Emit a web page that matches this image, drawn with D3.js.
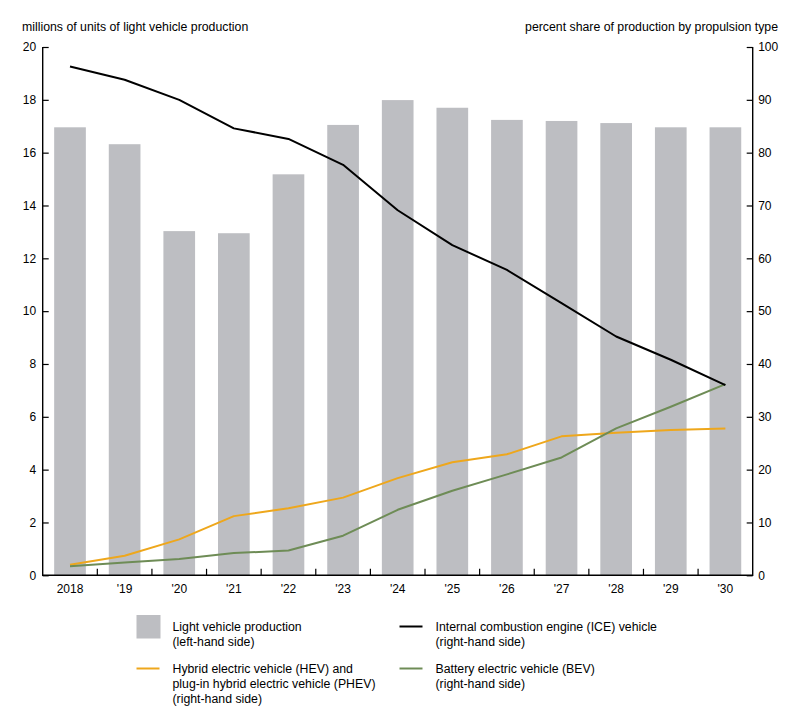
<!DOCTYPE html>
<html>
<head>
<meta charset="utf-8">
<script src="https://cdn.jsdelivr.net/npm/d3@7"></script>
<style>
  html, body { margin: 0; padding: 0; background: #fff; }
  svg { display: block; font-family: "Liberation Sans", Arial, Helvetica, sans-serif; }
</style>
</head>
<body>
<svg id="chart" width="800" height="722"></svg>
<script>
// ---- data ----
const years = ["2018", "'19", "'20", "'21", "'22", "'23", "'24", "'25", "'26", "'27", "'28", "'29", "'30"];
const production = [16.96, 16.32, 13.03, 12.95, 15.18, 17.05, 17.99, 17.70, 17.24, 17.20, 17.12, 16.96, 16.96];
const iceShare = [96.3, 93.8, 90.0, 84.6, 82.6, 77.7, 69.1, 62.5, 57.8, 51.5, 45.2, 40.8, 36.0];
const hevShare = [2.0, 3.7, 6.8, 11.2, 12.7, 14.7, 18.4, 21.4, 22.9, 26.3, 27.0, 27.5, 27.8];
const bevShare = [1.7, 2.4, 3.1, 4.2, 4.7, 7.5, 12.4, 16.0, 19.1, 22.3, 27.8, 31.9, 36.2];
const leftTicks = [0, 2, 4, 6, 8, 10, 12, 14, 16, 18, 20];
const rightTicks = [0, 10, 20, 30, 40, 50, 60, 70, 80, 90, 100];
const leftTitle = "millions of units of light vehicle production";
const rightTitle = "percent share of production by propulsion type";
const legendItems = [
  { type: "rect", key: "bar", lines: ["Light vehicle production", "(left-hand side)"] },
  { type: "line", key: "ice", lines: ["Internal combustion engine (ICE) vehicle", "(right-hand side)"] },
  { type: "line", key: "hev", lines: ["Hybrid electric vehicle (HEV) and", "plug-in hybrid electric vehicle (PHEV)", "(right-hand side)"] },
  { type: "line", key: "bev", lines: ["Battery electric vehicle (BEV)", "(right-hand side)"] }
];

// ---- styles ----
const colors = { bar: "#bdbec2", ice: "#000000", hev: "#eea71c", bev: "#6e8c56" };
const fontSize = "12.3px";

const svg = d3.select("#chart");
const x0 = 42.7, x1 = 752.7, yTop = 47, yBot = 575.3;

const x = d3.scaleBand().domain(years).range([x0, x1]).paddingInner(0.42).paddingOuter(0.21);
const yL = d3.scaleLinear().domain([0, 20]).range([yBot, yTop]);
const yR = d3.scaleLinear().domain([0, 100]).range([yBot, yTop]);

// bars
svg.append("g").selectAll("rect").data(years).join("rect")
  .attr("x", d => x(d))
  .attr("width", x.bandwidth())
  .attr("y", (d, i) => yL(production[i]))
  .attr("height", (d, i) => yL(0) - yL(production[i]))
  .attr("fill", colors.bar);

// lines
const line = d3.line().x((d, i) => x(years[i]) + x.bandwidth() / 2).y(d => yR(d));
[["hev", hevShare], ["bev", bevShare], ["ice", iceShare]].forEach(([k, arr]) => {
  svg.append("path").datum(arr)
    .attr("d", line)
    .attr("fill", "none")
    .attr("stroke", colors[k])
    .attr("stroke-width", k === "ice" ? 2 : 2)
    .attr("stroke-linejoin", "round");
});

// left axis
const gL = svg.append("g").attr("transform", `translate(${x0},0)`)
  .call(d3.axisRight(yL).tickValues(leftTicks).tickSize(6).tickFormat(d3.format("d")));
gL.select(".domain").remove();
gL.selectAll(".tick line").attr("stroke", "#000").attr("stroke-width", 1.2);
gL.selectAll(".tick text").attr("x", -6.5).attr("text-anchor", "end")
  .style("font-size", "12px").attr("fill", "#000").attr("font-family", null);
gL.attr("font-family", null).attr("font-size", null);

// right axis
const gR = svg.append("g").attr("transform", `translate(${x1},0)`)
  .call(d3.axisLeft(yR).tickValues(rightTicks).tickSize(6).tickFormat(d3.format("d")));
gR.select(".domain").remove();
gR.selectAll(".tick line").attr("stroke", "#000").attr("stroke-width", 1.2);
gR.selectAll(".tick text").attr("x", 5.5).attr("text-anchor", "start")
  .style("font-size", "12px").attr("fill", "#000");
gR.attr("font-family", null).attr("font-size", null);

// bottom axis
const gB = svg.append("g").attr("transform", `translate(0,${yBot})`)
  .call(d3.axisBottom(x).tickSize(0).tickPadding(0));
gB.select(".domain").remove();
gB.selectAll(".tick text").attr("y", 18).attr("dy", 0)
  .style("font-size", "12px").attr("fill", "#000");
gB.attr("font-family", null).attr("font-size", null);
// separator ticks between bars
const sepTicks = years.slice(1).map(d => x(d) - x.step() * x.paddingInner() / 2);
svg.append("g").selectAll("line").data(sepTicks).join("line")
  .attr("x1", d => d).attr("x2", d => d)
  .attr("y1", yBot).attr("y2", yBot - 6.5)
  .attr("stroke", "#000").attr("stroke-width", 1.2);

// axis lines
svg.append("path")
  .attr("d", `M${x0},${yTop}V${yBot}H${x1}V${yTop}`)
  .attr("fill", "none").attr("stroke", "#000").attr("stroke-width", 1.4);

// titles
svg.append("text").attr("x", 22).attr("y", 31).text(leftTitle)
  .style("font-size", fontSize).attr("fill", "#000");
svg.append("text").attr("x", 778).attr("y", 31).attr("text-anchor", "end").text(rightTitle)
  .style("font-size", fontSize).attr("fill", "#000");

// legend
const legPos = [
  { x: 136.5, y: 630.5 },
  { x: 399.5, y: 630.5 },
  { x: 136.5, y: 672.5 },
  { x: 399.5, y: 672.5 }
];
legendItems.forEach((it, i) => {
  const p = legPos[i];
  const g = svg.append("g");
  if (it.type === "rect") {
    g.append("rect").attr("x", p.x).attr("y", p.y - 15.5).attr("width", 24).attr("height", 23.5)
      .attr("fill", colors.bar);
  } else {
    g.append("line").attr("x1", p.x).attr("x2", p.x + 23).attr("y1", p.y - 4).attr("y2", p.y - 4)
      .attr("stroke", colors[it.key]).attr("stroke-width", 2);
  }
  const t = g.append("text").attr("x", p.x + 36).attr("y", p.y)
    .style("font-size", fontSize).attr("fill", "#000");
  it.lines.forEach((ln, j) => {
    t.append("tspan").attr("x", p.x + 36).attr("y", p.y + j * 15.3).text(ln);
  });
});
</script>
</body>
</html>
